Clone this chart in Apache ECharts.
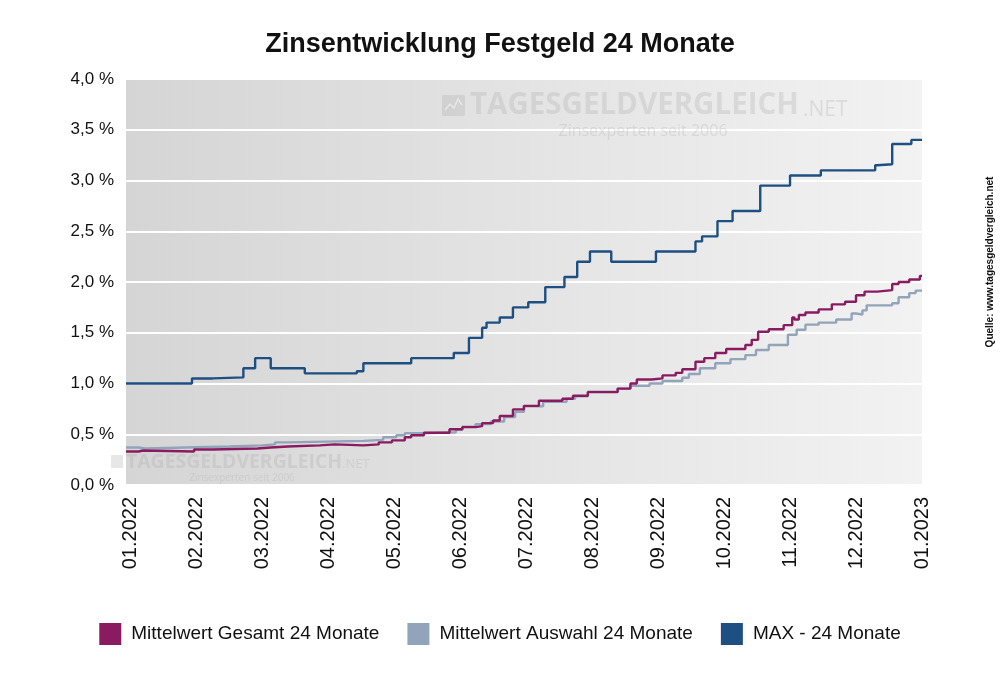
<!DOCTYPE html>
<html>
<head>
<meta charset="utf-8">
<script src="https://cdn.jsdelivr.net/npm/echarts@6/dist/echarts.min.js"></script>
<style>
html,body{margin:0;padding:0;background:#fff;}
#c{width:1000px;height:682px;}
</style>
</head>
<body>
<div id="c"></div>
<script>
const titleText = 'Zinsentwicklung Festgeld 24 Monate';
const seriesNames = ['Mittelwert Gesamt 24 Monate', 'Mittelwert Auswahl 24 Monate', 'MAX - 24 Monate'];
const yTicks = [0, 0.5, 1, 1.5, 2, 2.5, 3, 3.5, 4];
const xTickLabels = ['01.2022','02.2022','03.2022','04.2022','05.2022','06.2022','07.2022',
                     '08.2022','09.2022','10.2022','11.2022','12.2022','01.2023'];
const xStart = '2021-12-30';

// Step change points [date, value in %]
const gesamtData = [
  ['2021-12-30',0.33],['2022-01-05',0.34],['2022-01-07',0.33],['2022-01-31',0.35],['2022-02-08',0.36],
  ['2022-02-27',0.37],['2022-03-05',0.38],['2022-03-13',0.39],['2022-03-28',0.40],['2022-04-04',0.39],
  ['2022-04-17',0.40],['2022-04-24',0.42],['2022-04-30',0.44],['2022-05-06',0.47],['2022-05-09',0.49],
  ['2022-05-15',0.515],['2022-05-27',0.55],['2022-06-02',0.57],['2022-06-08',0.58],['2022-06-11',0.61],
  ['2022-06-16',0.635],['2022-06-19',0.68],['2022-06-25',0.745],['2022-06-30',0.78],['2022-07-07',0.83],
  ['2022-07-18',0.85],['2022-07-23',0.88],['2022-07-30',0.915],['2022-08-13',0.95],['2022-08-19',1.00],
  ['2022-08-22',1.04],['2022-08-29',1.05],['2022-09-03',1.08],['2022-09-09',1.105],['2022-09-12',1.14],
  ['2022-09-18',1.215],['2022-09-22',1.25],['2022-09-27',1.30],['2022-10-02',1.34],['2022-10-11',1.38],
  ['2022-10-14',1.43],['2022-10-17',1.51],['2022-10-22',1.535],['2022-10-29',1.575],['2022-11-02',1.65],
  ['2022-11-03',1.63],['2022-11-05',1.675],['2022-11-08',1.70],['2022-11-14',1.73],['2022-11-20',1.78],
  ['2022-11-26',1.805],['2022-12-01',1.87],['2022-12-05',1.905],['2022-12-11',1.92],['2022-12-18',1.98],
  ['2022-12-21',2.00],['2022-12-26',2.025],['2022-12-31',2.06],['2023-01-01',2.06]
];
const auswahlData = [
  ['2021-12-30',0.37],['2022-01-05',0.36],['2022-01-08',0.37],['2022-01-27',0.38],['2022-02-15',0.39],
  ['2022-03-01',0.40],['2022-03-07',0.42],['2022-03-13',0.435],['2022-04-17',0.445],['2022-04-26',0.47],
  ['2022-05-02',0.49],['2022-05-06',0.51],['2022-05-14',0.52],['2022-05-30',0.545],['2022-06-02',0.575],
  ['2022-06-08',0.60],['2022-06-15',0.625],['2022-06-21',0.67],['2022-06-26',0.72],['2022-06-30',0.775],
  ['2022-07-09',0.82],['2022-07-20',0.85],['2022-07-24',0.875],['2022-07-30',0.92],['2022-08-13',0.95],
  ['2022-08-19',0.978],['2022-08-28',1.00],['2022-09-03',1.025],['2022-09-12',1.057],['2022-09-15',1.094],
  ['2022-09-20',1.15],['2022-09-27',1.20],['2022-10-04',1.24],['2022-10-11',1.28],['2022-10-16',1.33],
  ['2022-10-22',1.38],['2022-10-31',1.48],['2022-11-04',1.53],['2022-11-08',1.58],['2022-11-14',1.60],
  ['2022-11-22',1.63],['2022-11-29',1.69],['2022-12-01',1.68],['2022-12-04',1.72],['2022-12-06',1.77],
  ['2022-12-18',1.79],['2022-12-21',1.85],['2022-12-26',1.89],['2022-12-29',1.915],['2023-01-01',1.92]
];
const maxData = [
  ['2021-12-30',1.00],['2022-01-30',1.05],['2022-02-08',1.06],['2022-02-21',1.15],['2022-02-26',1.25],
  ['2022-03-05',1.15],['2022-03-21',1.10],['2022-04-14',1.12],['2022-04-17',1.20],['2022-05-09',1.25],
  ['2022-05-29',1.30],['2022-06-05',1.45],['2022-06-11',1.55],['2022-06-13',1.60],['2022-06-19',1.65],
  ['2022-06-25',1.75],['2022-07-02',1.80],['2022-07-10',1.95],['2022-07-19',2.05],['2022-07-25',2.20],
  ['2022-07-31',2.30],['2022-08-10',2.20],['2022-08-31',2.30],['2022-09-18',2.40],['2022-09-21',2.45],
  ['2022-09-28',2.60],['2022-10-05',2.70],['2022-10-18',2.95],['2022-11-01',3.05],['2022-11-15',3.10],
  ['2022-12-10',3.15],['2022-12-11',3.16],['2022-12-18',3.36],['2022-12-27',3.40],['2023-01-01',3.40]
];
const seriesColors = ['#8a1b60', '#91a4b9', '#1d4f82'];

// The source chart gives every month the same width: position = month index + fraction of month.
function monthPos(s) {
  const [y, m, d] = s.split('-').map(Number);
  const dim = new Date(Date.UTC(y, m, 0)).getUTCDate();
  return (y - 2022) * 12 + (m - 1) + (d - 1) / dim;
}
const toXY = arr => arr.map(p => [monthPos(p[0]), p[1]]);
const tickPositions = xTickLabels.map(l => monthPos(l.slice(3) + '-' + l.slice(0, 2) + '-01'));

const chart = echarts.init(document.getElementById('c'), null, {renderer: 'canvas'});
const wmColor = 'rgba(170,170,170,0.28)';
const font = 'Liberation Sans, Arial, sans-serif';
const option = {
  animation: false,
  backgroundColor: '#ffffff',
  title: {
    text: titleText, left: 'center', top: 26,
    textStyle: {fontFamily: font, fontSize: 27, fontWeight: 'bold', color: '#111'}
  },
  grid: {
    left: 126, right: 78, top: 79, bottom: 197, show: true, borderWidth: 0,
    backgroundColor: new echarts.graphic.LinearGradient(0, 0, 1, 0, [
      {offset: 0, color: '#d5d5d5'}, {offset: 1, color: '#f2f2f2'}
    ])
  },
  legend: {
    top: 618, left: 'center', itemWidth: 22, itemHeight: 22, itemGap: 28, icon: 'rect',
    data: seriesNames,
    textStyle: {fontFamily: font, fontSize: 19, color: '#111', padding: [0, 0, 0, 5]}
  },
  xAxis: {
    type: 'value', min: monthPos(xStart), max: tickPositions[tickPositions.length - 1],
    axisLine: {show: false}, axisTick: {show: false}, splitLine: {show: false},
    axisLabel: {
      customValues: tickPositions,
      rotate: 90, margin: 12, fontSize: 20, color: '#111', fontFamily: font,
      showMinLabel: true, showMaxLabel: true,
      formatter: function (v) {
        const i = Math.round(v);
        return xTickLabels[i] !== undefined ? xTickLabels[i] : '';
      }
    }
  },
  yAxis: {
    type: 'value', min: yTicks[0], max: yTicks[yTicks.length - 1], interval: 0.5,
    axisLine: {show: false}, axisTick: {show: false},
    splitLine: {lineStyle: {color: '#ffffff', width: 2}},
    axisLabel: {
      fontSize: 17, color: '#111', margin: 12, fontFamily: font,
      formatter: v => v.toFixed(1).replace('.', ',') + ' %'
    }
  },
  graphic: [
    {type: 'rect', z: 1, shape: {x: 442, y: 95, width: 23, height: 21, r: 2}, style: {fill: wmColor}},
    {type: 'polyline', z: 1, shape: {points: [[445,110],[450,104],[454,108],[458,99],[462,105]]}, style: {stroke: 'rgba(255,255,255,0.5)', lineWidth: 1.5, fill: null}},
    {type: 'text', z: 1, x: 470, y: 106, style: {text: 'TAGESGELDVERGLEICH', font: 'bold 29.5px "Open Sans", sans-serif', fill: wmColor, textVerticalAlign: 'middle'}},
    {type: 'text', z: 1, x: 803, y: 110, style: {text: '.NET', font: '21px "Open Sans", sans-serif', fill: wmColor, textVerticalAlign: 'middle'}},
    {type: 'text', z: 1, x: 643, y: 131, style: {text: 'Zinsexperten seit 2006', font: '16px "Open Sans", sans-serif', fill: wmColor, textAlign: 'center', textVerticalAlign: 'middle'}},
    {type: 'rect', z: 1, shape: {x: 111, y: 455, width: 12, height: 13, r: 1}, style: {fill: wmColor}},
    {type: 'text', z: 1, x: 126, y: 462, style: {text: 'TAGESGELDVERGLEICH', font: 'bold 19.4px "Open Sans", sans-serif', fill: wmColor, textVerticalAlign: 'middle'}},
    {type: 'text', z: 1, x: 342, y: 464, style: {text: '.NET', font: '13px "Open Sans", sans-serif', fill: wmColor, textVerticalAlign: 'middle'}},
    {type: 'text', z: 1, x: 242, y: 478, style: {text: 'Zinsexperten seit 2006', font: '10px "Open Sans", sans-serif', fill: wmColor, textAlign: 'center', textVerticalAlign: 'middle'}},
    {type: 'text', z: 10, x: 990, y: 262, rotation: Math.PI / 2, style: {text: 'Quelle: www.tagesgeldvergleich.net', font: 'bold 10px "Liberation Sans", Arial, sans-serif', fill: '#111', textAlign: 'center', textVerticalAlign: 'middle'}}
  ],
  series: [
    {name: seriesNames[0], type: 'line', step: 'end', data: toXY(gesamtData), showSymbol: false, z: 4, color: seriesColors[0], lineStyle: {width: 2.4, color: seriesColors[0]}},
    {name: seriesNames[1], type: 'line', step: 'end', data: toXY(auswahlData), showSymbol: false, z: 3, color: seriesColors[1], lineStyle: {width: 2.4, color: seriesColors[1]}},
    {name: seriesNames[2], type: 'line', step: 'end', data: toXY(maxData), showSymbol: false, z: 5, color: seriesColors[2], lineStyle: {width: 2.4, color: seriesColors[2]}}
  ]
};
chart.setOption(option);
</script>
</body>
</html>
